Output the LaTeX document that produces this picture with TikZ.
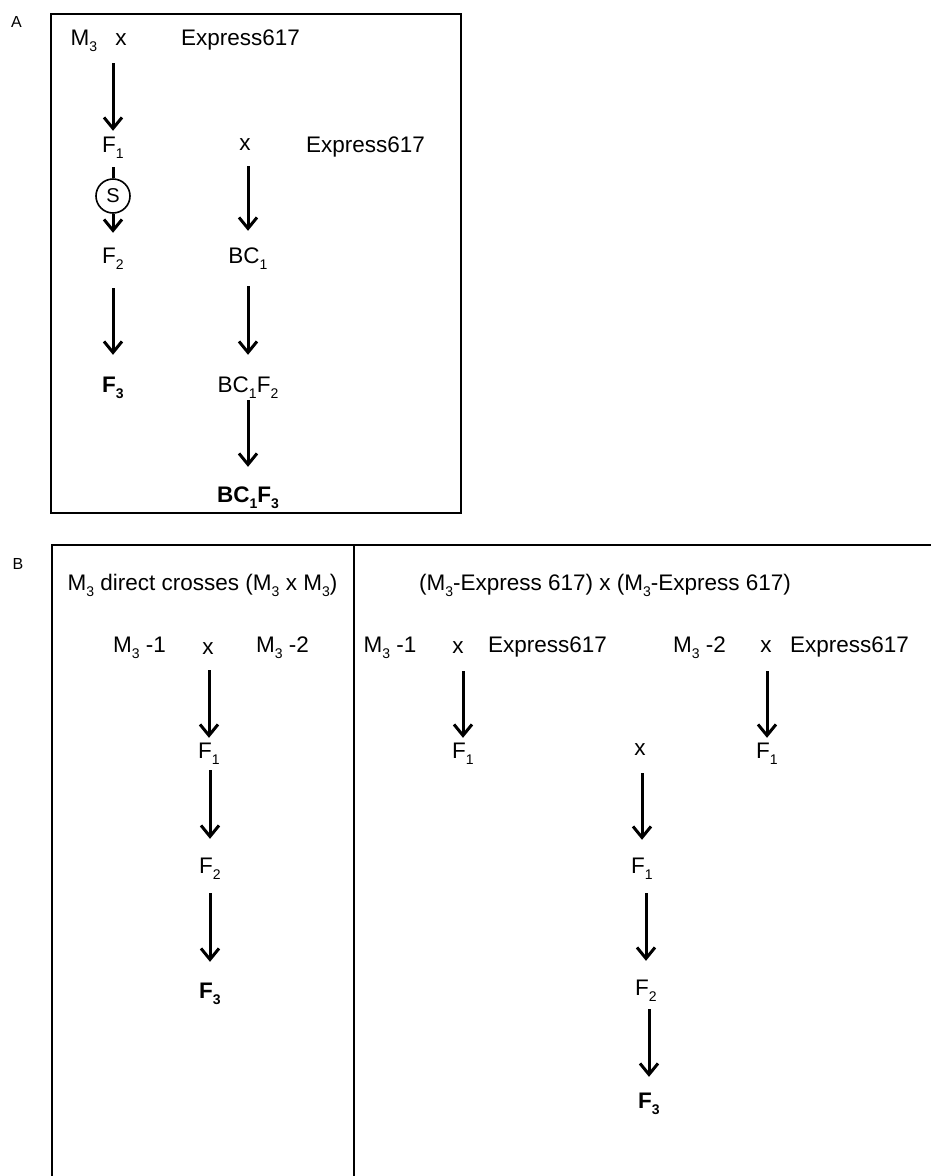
\documentclass[tikz,border=0pt]{standalone}
\usepackage{fontspec}
\setmainfont{Liberation Sans}
\usepackage{tikz}
\usetikzlibrary{arrows.meta}
\newcommand{\subnum}[1]{\raisebox{-6pt}{\fontsize{14}{14}\selectfont #1}}

\begin{document}
\begin{tikzpicture}[x=1pt,y=-1pt,
  lbl/.style={anchor=base,inner sep=0pt,text height=16pt,text depth=0pt,font=\fontsize{22.5}{27}\selectfont},
  tag/.style={anchor=base,inner sep=0pt,font=\fontsize{16}{19}\selectfont},
  panel/.style={line width=2.2pt},
  arr/.style={line width=3pt,-{Straight Barb[length=11pt,width=18pt]}},
  selfed/.style={draw,circle,line width=1.6pt,minimum size=34pt,inner sep=0pt,font=\fontsize{20}{24}\selectfont}]
\useasboundingbox (0,0) rectangle (931,1176);
% panel A
\node[tag] (panA) at (16.5,27) {A};
\draw[panel] (51,14) rectangle (461,513);
\node[lbl] (m3A) at (84,45) {M\subnum{3}};
\node[lbl] (xA1) at (121,45) {x};
\node[lbl] (expA1) at (240.5,45) {Express617};
\node[lbl] (f1A) at (113,152) {F\subnum{1}};
\node[selfed] (selfA) at (113,196) {S};
\node[lbl] (f2A) at (113,263) {F\subnum{2}};
\node[lbl] (f3A) at (113,392) {\textbf{F\subnum{3}}};
\node[lbl] (xA2) at (245,150) {x};
\node[lbl] (expA2) at (365.5,152) {Express617};
\node[lbl] (bc1A) at (248,263) {BC\subnum{1}};
\node[lbl] (bc1f2A) at (248,392) {BC\subnum{1}F\subnum{2}};
\node[lbl] (bc1f3A) at (248,502) {\textbf{BC\subnum{1}F\subnum{3}}};
\draw[arr,shorten <=18pt,shorten >=5pt] (f1A |- xA1.south) -- (f1A);
\draw[line width=3pt,shorten <=15pt] (f1A) -- (selfA);
\draw[arr,shorten >=14pt] (selfA) -- (f2A);
\draw[arr,shorten <=25pt,shorten >=21pt] (f2A) -- (f3A);
\draw[arr,shorten <=16pt,shorten >=16pt] (bc1A |- xA2.south) -- (bc1A);
\draw[arr,shorten <=23pt,shorten >=21pt] (bc1A) -- (bc1f2A);
\draw[arr,shorten <=8pt,shorten >=19pt] (bc1f2A) -- (bc1f3A);
% panel B
\node[tag] (panB) at (18,569) {B};
\draw[panel] (931,545) -- (52,545) -- (52,1176);
\draw[panel] (354,545) -- (354,1176);
\node[lbl] (hdL) at (202.5,590) {M\subnum{3} direct crosses (M\subnum{3} x M\subnum{3})};
\node[lbl] (hdR) at (605,590) {(M\subnum{3}-Express 617) x (M\subnum{3}-Express 617)};
\node[lbl] (m31L) at (139.5,652) {M\subnum{3} -1};
\node[lbl] (xL) at (208,654) {x};
\node[lbl] (m32L) at (282.5,652) {M\subnum{3} -2};
\node[lbl] (f1L) at (209,758) {F\subnum{1}};
\node[lbl] (f2L) at (210,873) {F\subnum{2}};
\node[lbl] (f3L) at (210,998) {\textbf{F\subnum{3}}};
\draw[arr,shorten <=16pt,shorten >=4pt] (f1L |- xL.south) -- (f1L);
\draw[arr,shorten <=12pt,shorten >=18pt] (f2L |- f1L.south) -- (f2L);
\draw[arr,shorten <=20pt,shorten >=20pt] (f3L |- f2L.south) -- (f3L);
\node[lbl] (m31R) at (390,652) {M\subnum{3} -1};
\node[lbl] (xR1) at (458,653) {x};
\node[lbl] (expR1) at (547.5,652) {Express617};
\node[lbl] (f1R1) at (463,758) {F\subnum{1}};
\node[lbl] (m32R) at (699.5,652) {M\subnum{3} -2};
\node[lbl] (xR2) at (766,652) {x};
\node[lbl] (expR2) at (849.5,652) {Express617};
\node[lbl] (f1R2) at (767,758) {F\subnum{1}};
\node[lbl] (xR3) at (640,755) {x};
\node[lbl] (f1R3) at (642,873) {F\subnum{1}};
\node[lbl] (f2R) at (646,995) {F\subnum{2}};
\node[lbl] (f3R) at (649,1108) {\textbf{F\subnum{3}}};
\draw[arr,shorten <=18pt,shorten >=4pt] (f1R1 |- xR1.south) -- (f1R1);
\draw[arr,shorten <=19pt,shorten >=4pt] (f1R2 |- xR2.south) -- (f1R2);
\draw[arr,shorten <=18pt,shorten >=17pt] (f1R3 |- xR3.south) -- (f1R3);
\draw[arr,shorten <=20pt,shorten >=18pt] (f2R |- f1R3.south) -- (f2R);
\draw[arr,shorten <=14pt,shorten >=15pt] (f3R |- f2R.south) -- (f3R);
\end{tikzpicture}
\end{document}
